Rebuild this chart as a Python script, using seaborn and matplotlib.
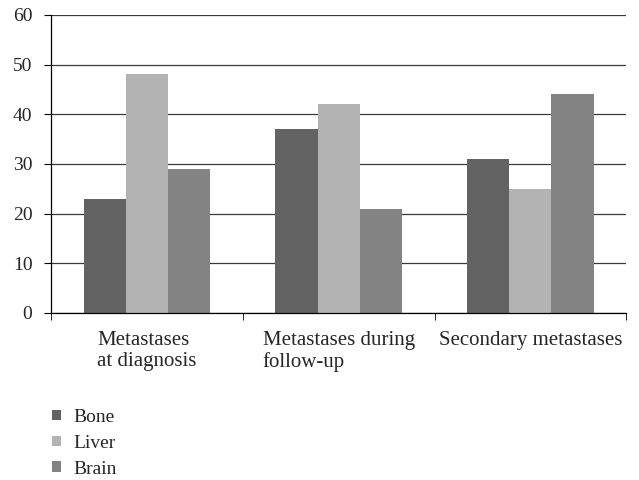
import pandas as pd
import matplotlib.pyplot as plt
import seaborn as sns

# Data
categories = ['Metastases\nat diagnosis', 'Metastases during\nfollow-up', 'Secondary metastases']
sites = ['Bone', 'Liver', 'Brain']
bone = [23, 37, 31]
liver = [48, 42, 25]
brain = [29, 21, 44]
colors = ['#636363', '#b3b3b3', '#838383']

df = pd.DataFrame({
    'category': categories * 3,
    'site': [s for s in sites for _ in categories],
    'value': bone + liver + brain,
})

sns.set_style('white')
plt.rcParams['font.family'] = ['Liberation Serif', 'DejaVu Serif']

fig = plt.figure(figsize=(6.39, 4.8), dpi=100)
ax = fig.add_axes([0.080, 0.348, 0.900, 0.621])

sns.barplot(data=df, x='category', y='value', hue='site', palette=colors,
            width=0.66, edgecolor='none', saturation=1, ax=ax, legend=True)

ax.set_ylim(0, 60)
ax.set_yticks(range(0, 61, 10))
ax.set_xlim(-0.5, 2.5)
ax.yaxis.grid(True, color='#3a3a3a', linewidth=0.9)
ax.set_axisbelow(True)
ax.set_xlabel('')
ax.set_ylabel('')

for side in ['top', 'right']:
    ax.spines[side].set_visible(False)
ax.spines['left'].set_color('black')
ax.spines['bottom'].set_color('black')
ax.spines['left'].set_linewidth(0.9)
ax.spines['bottom'].set_linewidth(0.9)

# category boundaries get tick marks, labels sit between them
ax.set_xticks([-0.5, 0.5, 1.5, 2.5], minor=True)
ax.tick_params(axis='x', which='major', length=0, pad=13, labelsize=15)
ax.tick_params(axis='x', which='minor', length=5, direction='out', color='black', bottom=True)
ax.tick_params(axis='y', length=5, direction='out', color='black', left=True, labelsize=14, pad=8.5)
for lbl in ax.get_xticklabels():
    lbl.set_multialignment('left')
    lbl.set_linespacing(1.15)

handles, labels = ax.get_legend_handles_labels()
ax.get_legend().remove()
fig.legend(handles, labels, loc='upper left', bbox_to_anchor=(0.069, 0.164),
           frameon=False, fontsize=14, handlelength=0.45, handleheight=0.45,
           handletextpad=0.65, labelspacing=0.45, borderaxespad=0)

fig.savefig('out.png', dpi=100)
